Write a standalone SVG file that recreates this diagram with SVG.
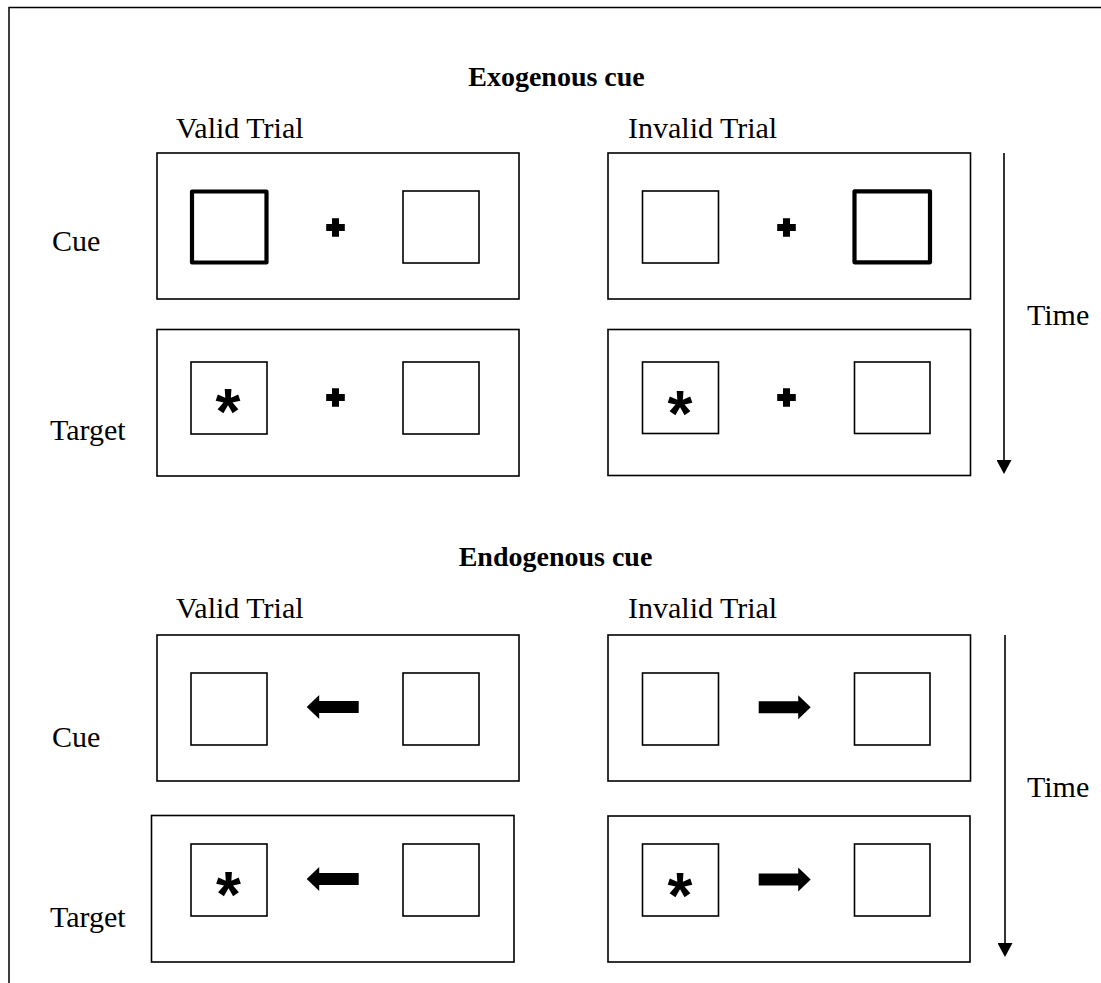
<svg xmlns="http://www.w3.org/2000/svg" width="1101" height="983" viewBox="0 0 1101 983">
<style>
.frame{fill:none;stroke:#000;stroke-width:1.5}
.panel{fill:#fff;stroke:#000;stroke-width:1.6}
.sq{fill:none;stroke:#000;stroke-width:1.6}
.cued{fill:none;stroke:#000;stroke-width:4.2;stroke-linejoin:round}
.lbl{font-family:"Liberation Serif",serif;font-size:30px;fill:#000}
.title{font-family:"Liberation Serif",serif;font-size:28px;font-weight:bold;fill:#000;text-anchor:middle}
.star{font-family:"Liberation Sans",sans-serif;font-size:64px;font-weight:bold;fill:#000;text-anchor:middle}
.time{fill:none;stroke:#000;stroke-width:1.6}
</style>
<defs>
<path id="cross" d="M-3.5,-9.3H3.5V-3.5H9.3V3.5H3.5V9.3H-3.5V3.5H-9.3V-3.5H-3.5Z" fill="#000"/>
<path id="larrow" d="M-26,0L-13.5,-12V-6H26V6H-13.5V12Z" fill="#000"/>
<marker id="head" viewBox="0 0 14 15" refX="6" refY="7.5" markerWidth="14" markerHeight="15" markerUnits="userSpaceOnUse" orient="auto">
<path d="M0,0L14,7.5L0,15Z" fill="#000"/>
</marker>
</defs>
<rect width="1101" height="983" fill="#fff"/>
<path class="frame" d="M9,983V7.5H1101"/>

<g id="labels">
<text class="title" x="556.5" y="86">Exogenous cue</text>
<text class="lbl" x="176" y="138">Valid Trial</text>
<text class="lbl" x="628" y="138">Invalid Trial</text>
<text class="lbl" x="52" y="251">Cue</text>
<text class="lbl" x="50" y="440">Target</text>
<text class="lbl" x="1027" y="325">Time</text>
<text class="title" x="555.5" y="566">Endogenous cue</text>
<text class="lbl" x="176" y="618">Valid Trial</text>
<text class="lbl" x="628" y="618">Invalid Trial</text>
<text class="lbl" x="52" y="747">Cue</text>
<text class="lbl" x="50" y="927">Target</text>
<text class="lbl" x="1027" y="797">Time</text>
</g>

<g id="exo-valid-cue">
<rect class="panel" x="157" y="153" width="362" height="146"/>
<rect class="cued" x="192" y="191.5" width="74.5" height="71"/>
<use href="#cross" x="335.5" y="227.5"/>
<rect class="sq" x="403" y="191" width="76" height="72"/>
</g>
<g id="exo-invalid-cue">
<rect class="panel" x="608" y="153" width="362.5" height="146"/>
<rect class="sq" x="642.5" y="191" width="76" height="72"/>
<use href="#cross" x="786.5" y="227.5"/>
<rect class="cued" x="854.5" y="191.3" width="75.5" height="71"/>
</g>
<g id="exo-valid-target">
<rect class="panel" x="157" y="329.5" width="362" height="146.5"/>
<rect class="sq" x="191" y="362" width="76" height="72"/>
<text class="star" x="228" y="434">*</text>
<use href="#cross" x="335.5" y="397.5"/>
<rect class="sq" x="403" y="362" width="76" height="72"/>
</g>
<g id="exo-invalid-target">
<rect class="panel" x="608" y="329.5" width="362.5" height="146"/>
<rect class="sq" x="642.5" y="362" width="76" height="71.5"/>
<text class="star" x="680" y="435.5">*</text>
<use href="#cross" x="786.5" y="397.5"/>
<rect class="sq" x="854.5" y="362" width="75.5" height="71.5"/>
</g>

<g id="endo-valid-cue">
<rect class="panel" x="157" y="635" width="362" height="146"/>
<rect class="sq" x="191" y="673" width="76" height="72"/>
<use href="#larrow" x="332.7" y="707"/>
<rect class="sq" x="403" y="673" width="76" height="72"/>
</g>
<g id="endo-invalid-cue">
<rect class="panel" x="608" y="635" width="362.5" height="146"/>
<rect class="sq" x="642.5" y="673" width="76" height="72"/>
<use href="#larrow" transform="translate(784.7,707.2) scale(-1,1)"/>
<rect class="sq" x="854.5" y="673" width="75.5" height="72"/>
</g>
<g id="endo-valid-target">
<rect class="panel" x="151.5" y="815.5" width="362.5" height="146.5"/>
<rect class="sq" x="191" y="844" width="76" height="72"/>
<text class="star" x="228.5" y="917">*</text>
<use href="#larrow" x="332.7" y="879"/>
<rect class="sq" x="403" y="844" width="76" height="72"/>
</g>
<g id="endo-invalid-target">
<rect class="panel" x="608" y="816" width="362" height="146"/>
<rect class="sq" x="642.5" y="844" width="76" height="72"/>
<text class="star" x="680" y="917.5">*</text>
<use href="#larrow" transform="translate(784.7,879.5) scale(-1,1)"/>
<rect class="sq" x="854.5" y="844" width="75.5" height="72"/>
</g>

<g id="connectors">
<line class="time" x1="1004" y1="153" x2="1004" y2="466" marker-end="url(#head)"/>
<line class="time" x1="1005" y1="635" x2="1005" y2="949" marker-end="url(#head)"/>
</g>
</svg>
